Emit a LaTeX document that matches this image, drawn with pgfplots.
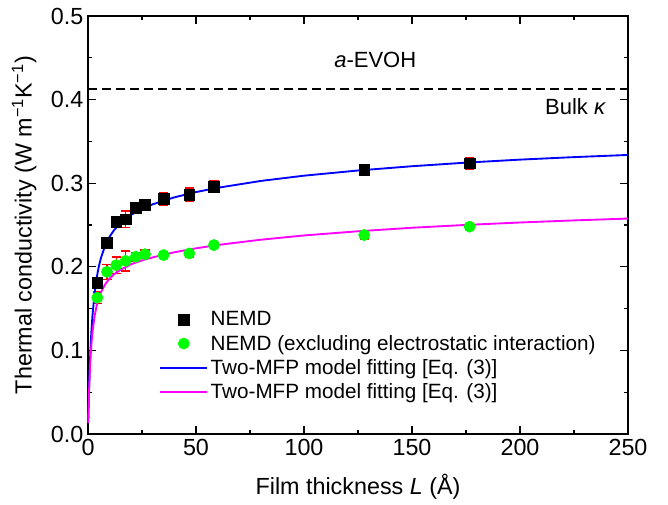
\documentclass[border=0pt]{standalone}
\usepackage{fontspec}
\setmainfont{Liberation Sans}
\usepackage{pgfplots}
\usepackage{pgfplotstable}
\pgfplotsset{compat=1.18}
\definecolor{mygreen}{RGB}{0,255,0}
\definecolor{myblue}{RGB}{0,0,255}
\definecolor{mymag}{RGB}{255,0,255}
\pgfplotstableread{
x y e
4.3 0.181 0.005
8.8 0.229 0.004
13.1 0.254 0.006
17.4 0.257 0.010
22.1 0.271 0.005
26.4 0.274 0.005
35.0 0.281 0.007
46.9 0.286 0.008
58.3 0.296 0.007
127.9 0.316 0.004
176.7 0.324 0.007
}\nemd
\pgfplotstableread{
x y e
4.3 0.163 0.007
8.8 0.194 0.009
13.1 0.202 0.010
17.4 0.207 0.012
22.1 0.212 0.005
26.4 0.215 0.005
35.0 0.214 0.004
46.9 0.216 0.004
58.3 0.226 0.003
127.9 0.238 0.005
176.7 0.248 0.003
}\excl
\pgfplotstableread{
x y
0.1 0.013
0.2 0.025
0.5 0.0555
1 0.0926
1.5 0.1193
2 0.1393
3 0.1675
4 0.1865
5 0.2002
6 0.2107
8 0.2258
10 0.236
12 0.2437
15 0.2522
20 0.2622
25 0.2693
30 0.2748
40 0.2831
50 0.2894
60 0.2945
80 0.3027
100 0.309
125 0.3152
150 0.3203
175 0.3246
200 0.3282
225 0.3312
250 0.3338
}\fitA
\pgfplotstableread{
x y
0.1 0.013
0.2 0.0246
0.5 0.0523
1 0.0837
1.5 0.1048
2 0.12
3 0.1403
4 0.1534
5 0.1626
6 0.1696
8 0.1793
10 0.186
12 0.1909
15 0.1965
20 0.2031
25 0.2077
30 0.2113
40 0.2174
50 0.2221
60 0.2261
80 0.2324
100 0.2375
125 0.2425
150 0.2467
175 0.2501
200 0.253
225 0.2555
250 0.2577
}\fitB
\begin{document}
\begin{tikzpicture}
\begin{axis}[
  scale only axis, width=405pt, height=313.5pt,
  xmin=0, xmax=250, ymin=0, ymax=0.5,
  xtick={0,50,100,150,200,250}, minor xtick={25,75,125,175,225},
  ytick={0,0.1,0.2,0.3,0.4,0.5}, minor ytick={0.05,0.15,0.25,0.35,0.45},
  tick align=inside, major tick length=6pt, minor tick length=3pt,
  tick style={black, line width=0.8pt},
  axis line style={line width=1pt},
  /pgf/number format/assume math mode=true,
  yticklabel style={/pgf/number format/.cd, fixed, fixed zerofill, precision=1},
  ticklabel style={font=\fontsize{17.5}{20}\selectfont},
  label style={font=\fontsize{17.5}{20}\selectfont},
  xlabel={Film thickness \textit{L} (Å)},
  ylabel={Thermal conductivity (W m\textsuperscript{\char"2212 1}K\textsuperscript{\char"2212 1})},
  xlabel style={yshift=-7pt},
  ylabel style={yshift=4pt},
  legend style={at={(axis cs:33,0.150)}, anchor=north west, draw=none, fill=none,
    font=\fontsize{15.5}{18}\selectfont, inner sep=0pt, row sep=1.5pt},
  legend cell align=left,
  legend image code/.code={\draw[mark repeat=2,mark phase=2,#1] plot coordinates {(0pt,0pt) (17.5pt,0pt) (35pt,0pt)};},
  clip=false,
]
\addplot[only marks, mark=square*, mark size=4pt, black] table[x=x,y=y] {\nemd};
\addlegendentry{NEMD}
\addplot[only marks, mark=*, mark size=4.2pt, mygreen, draw=mygreen, fill=mygreen] table[x=x,y=y] {\excl};
\addlegendentry{NEMD (excluding electrostatic interaction)}
\addplot[draw=none, forget plot, error bars/.cd, y dir=both, y explicit,
  error bar style={draw=red, line width=1.1pt},
  error mark options={rotate=90, mark size=3.5pt, draw=red, line width=1.1pt}]
  table[x=x,y=y,y error=e] {\nemd};
\addplot[draw=none, forget plot, error bars/.cd, y dir=both, y explicit,
  error bar style={draw=red, line width=1.1pt},
  error mark options={rotate=90, mark size=3.5pt, draw=red, line width=1.1pt}]
  table[x=x,y=y,y error=e] {\excl};
\addplot[myblue, line width=1.4pt, no marks] table[x=x,y=y] {\fitA};
\addlegendentry{Two-MFP model fitting [Eq. (3)]}
\addplot[mymag, line width=1.4pt, no marks] table[x=x,y=y] {\fitB};
\addlegendentry{Two-MFP model fitting [Eq. (3)]}
\addplot[black, line width=1.2pt, dash pattern=on 6.5pt off 4pt, no marks, forget plot] coordinates {(0,0.413) (250,0.413)};
\node[font=\fontsize{16.5}{19}\selectfont] at (axis cs:133,0.447) {\textit{a}-EVOH};
\node[font=\fontsize{16.5}{19}\selectfont, anchor=east] at (axis cs:242,0.391) {Bulk \textit{κ}};
\coordinate (ll) at (rel axis cs:0,0);
\coordinate (ur) at (rel axis cs:1,1);
\end{axis}
\pgfresetboundingbox
\path[use as bounding box] ([shift={(-66pt,-52.5pt)}]ll) rectangle ([shift={(30pt,12pt)}]ur);
\end{tikzpicture}
\end{document}
